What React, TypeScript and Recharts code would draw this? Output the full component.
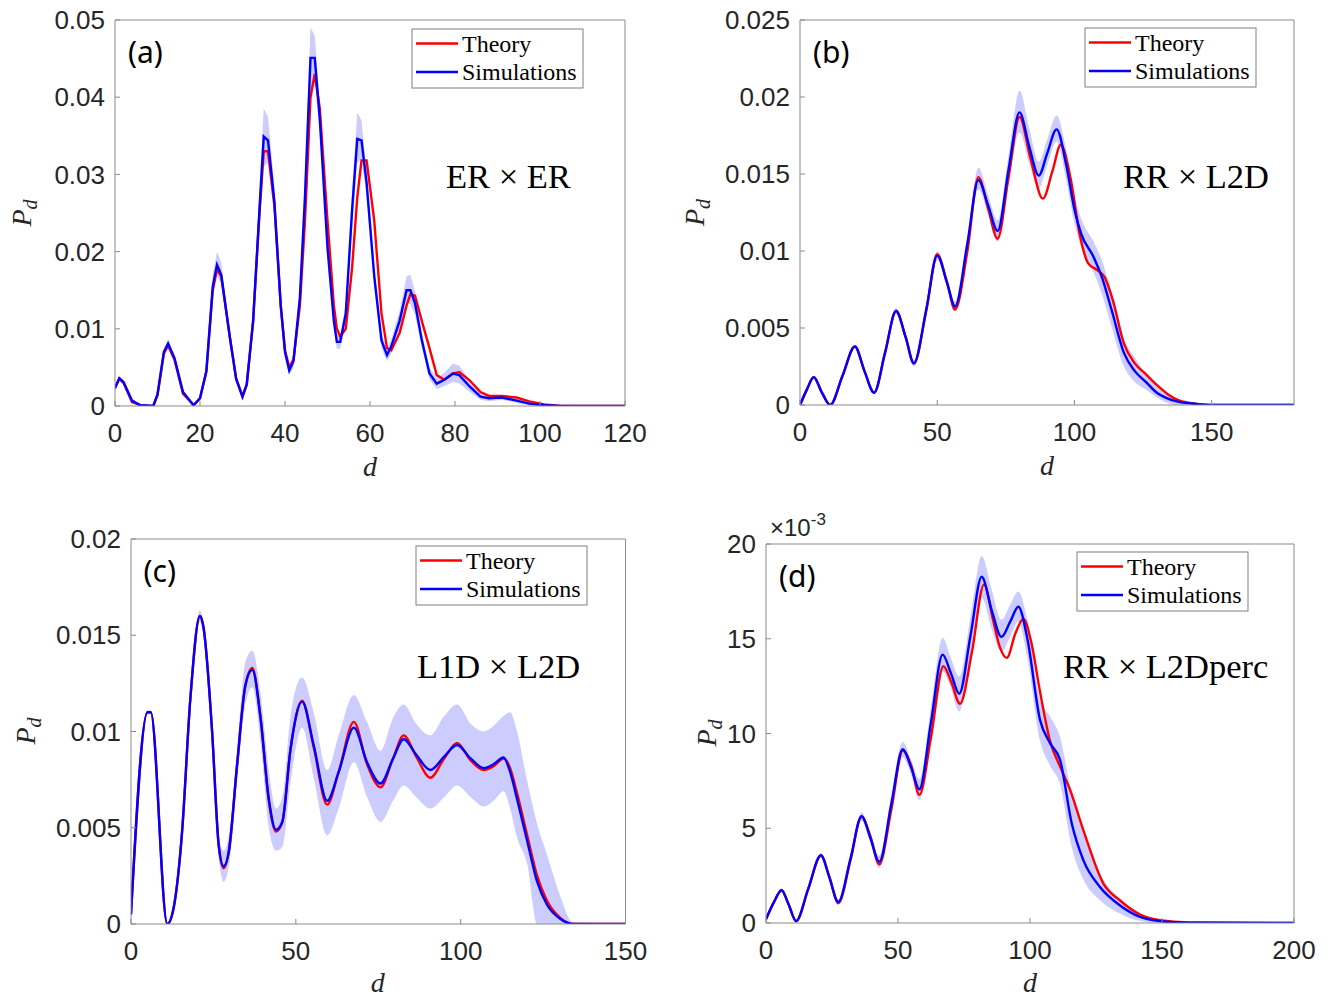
import { Area, ComposedChart, Line, XAxis, YAxis } from "recharts";

// ---------- (a) ER x ER ----------
const dA = [
  0, 1, 2, 4, 6, 9, 10, 11.5, 12.5, 14,
  16, 18.5, 20, 21.5, 23, 24, 25, 27, 28.5, 30,
  31, 32.5, 34, 35, 36, 37.5, 39, 40, 41, 42,
  43.5, 44.7, 46, 47, 48.2, 50, 51.5, 52.2, 53, 54.3,
  55.8, 57, 58, 59.2, 61, 62.7, 64, 65, 67, 68.6,
  69.5, 70.6, 72.2, 74, 75.7, 77.5, 79.5, 81, 83.5, 86,
  88, 91, 94.5, 97.5, 101, 105, 120,
];
const simA = [
  0.0023, 0.0036, 0.0031, 0.0007, 0.0001, 0, 0.0015, 0.007, 0.0081, 0.0062,
  0.0018, 0.0001, 0.001, 0.0045, 0.0155, 0.0183, 0.017, 0.009, 0.0035, 0.0012,
  0.0028, 0.011, 0.0255, 0.0349, 0.0344, 0.0265, 0.013, 0.007, 0.0046, 0.0058,
  0.014, 0.0271, 0.0451, 0.0451, 0.0371, 0.0205, 0.011, 0.0083, 0.0083, 0.012,
  0.0255, 0.0346, 0.0344, 0.0289, 0.0168, 0.0085, 0.0066, 0.0077, 0.0111, 0.015,
  0.015, 0.0133, 0.0085, 0.0042, 0.0029, 0.0034, 0.0042, 0.004, 0.0025, 0.0012,
  0.001, 0.0011, 0.0007, 0.0003, 0.0001, 0, 0,
];
const theoryA = [
  0.0024, 0.0035, 0.003, 0.0005, 0.0001, 0, 0.0014, 0.0068, 0.0078, 0.006,
  0.0016, 0.0001, 0.001, 0.0045, 0.015, 0.0177, 0.0168, 0.009, 0.0036, 0.0012,
  0.0028, 0.011, 0.025, 0.033, 0.033, 0.026, 0.013, 0.0072, 0.005, 0.006,
  0.013, 0.024, 0.04, 0.043, 0.0385, 0.024, 0.013, 0.01, 0.009, 0.01,
  0.018, 0.027, 0.0318, 0.0318, 0.024, 0.012, 0.0075, 0.0072, 0.0095, 0.013,
  0.0145, 0.0143, 0.011, 0.0075, 0.004, 0.0034, 0.0042, 0.0044, 0.0033, 0.0018,
  0.0013, 0.0013, 0.0011, 0.0006, 0.0002, 0, 0,
];
const hiA = [
  0.0026, 0.0039, 0.0034, 0.0009, 0.0002, 0, 0.0017, 0.0074, 0.0087, 0.0066,
  0.002, 0.0002, 0.0012, 0.0048, 0.017, 0.02, 0.0186, 0.0096, 0.0038, 0.0015,
  0.0032, 0.012, 0.0285, 0.0385, 0.0375, 0.0285, 0.014, 0.0078, 0.0052, 0.0066,
  0.0155, 0.03, 0.049, 0.048, 0.039, 0.022, 0.012, 0.0092, 0.0092, 0.0132,
  0.028, 0.038, 0.037, 0.0305, 0.018, 0.0095, 0.0074, 0.0086, 0.0124, 0.0168,
  0.017, 0.0148, 0.0095, 0.005, 0.0036, 0.0043, 0.0055, 0.0052, 0.0033, 0.0017,
  0.0014, 0.0014, 0.001, 0.0005, 0.0002, 0, 0,
];
const loA = [
  0.002, 0.0033, 0.0028, 0.0005, 0, 0, 0.0013, 0.0066, 0.0075, 0.0058,
  0.0016, 0, 0.0008, 0.0042, 0.0145, 0.0168, 0.0158, 0.0084, 0.0032, 0.0009,
  0.0024, 0.01, 0.023, 0.031, 0.0315, 0.0245, 0.012, 0.0062, 0.004, 0.005,
  0.0125, 0.0245, 0.041, 0.042, 0.035, 0.019, 0.01, 0.0074, 0.0074, 0.0108,
  0.023, 0.0315, 0.032, 0.0272, 0.0156, 0.0075, 0.0058, 0.0068, 0.0098, 0.0133,
  0.0132, 0.0118, 0.0075, 0.0034, 0.0022, 0.0026, 0.0031, 0.0029, 0.0018, 0.0008,
  0.0006, 0.0008, 0.0004, 0.0001, 0, 0, 0,
];
const xTicksA = [0, 20, 40, 60, 80, 100, 120];
const yTicksA = [0, 0.01, 0.02, 0.03, 0.04, 0.05];

// ---------- (b) RR x L2D ----------
const dSimB = [
  0, 2.5, 5, 8, 11, 15.5, 20, 23.5, 27, 31,
  35, 38.5, 41.5, 46, 50, 53.5, 56.5, 61, 65, 68.5,
  72, 76, 80, 83.5, 87, 90, 93.5, 97, 100, 102.5,
  107, 110, 113.5, 118, 122, 126, 130, 133, 138, 143,
  150, 180,
];
const simB = [
  0, 0.001, 0.0018, 0.0008, 0, 0.0019, 0.0038, 0.0022, 0.0008, 0.0034,
  0.0061, 0.0044, 0.0027, 0.0062, 0.0097, 0.008, 0.0064, 0.0105, 0.0146, 0.013,
  0.0113, 0.0153, 0.019, 0.0168, 0.0149, 0.0163, 0.0179, 0.0156, 0.0127, 0.0111,
  0.0096, 0.0083, 0.0062, 0.0034, 0.0022, 0.0015, 0.0008, 0.0005, 0.0002, 0.0001,
  0, 0,
];
const hiB = [
  0.0001, 0.0011, 0.0019, 0.0009, 0.0001, 0.002, 0.0039, 0.0023, 0.0009, 0.0035,
  0.0063, 0.0046, 0.0029, 0.0065, 0.01, 0.0083, 0.0067, 0.011, 0.0154, 0.0137,
  0.012, 0.0162, 0.0204, 0.018, 0.0158, 0.0172, 0.0188, 0.0166, 0.0136, 0.0121,
  0.0106, 0.0094, 0.0073, 0.0043, 0.0031, 0.002, 0.0012, 0.0008, 0.0004, 0.0002,
  0, 0,
];
const loB = [
  0, 0.0009, 0.0017, 0.0007, 0, 0.0018, 0.0037, 0.0021, 0.0007, 0.0033,
  0.0059, 0.0042, 0.0025, 0.0059, 0.0094, 0.0077, 0.0061, 0.01, 0.014, 0.0124,
  0.0106, 0.0144, 0.0177, 0.0157, 0.0141, 0.0155, 0.0171, 0.0146, 0.0118, 0.0102,
  0.0086, 0.0072, 0.0051, 0.0025, 0.0015, 0.001, 0.0005, 0.0002, 0, 0,
  0, 0,
];
const dThB = [
  0, 2.5, 5, 8, 11, 15.5, 20, 23.5, 27, 31,
  35, 38.5, 41.5, 46, 50, 53.5, 56.5, 61, 65, 68.5,
  72, 76, 80, 84, 88.5, 92, 95, 98.5, 102, 105,
  108, 111, 114, 118, 122, 126, 130, 134, 138, 143,
  150, 180,
];
const theoryB = [
  0, 0.001, 0.0018, 0.0008, 0, 0.0019, 0.0038, 0.0022, 0.0008, 0.0034,
  0.0061, 0.0044, 0.0027, 0.0061, 0.0098, 0.008, 0.0062, 0.01, 0.0148, 0.0128,
  0.0108, 0.0148, 0.0187, 0.016, 0.0134, 0.0152, 0.0169, 0.0148, 0.011, 0.0092,
  0.0088, 0.0083, 0.0068, 0.004, 0.0027, 0.002, 0.0013, 0.0007, 0.0003, 0.0001,
  0, 0,
];
const xTicksB = [0, 50, 100, 150];
const yTicksB = [0, 0.005, 0.01, 0.015, 0.02, 0.025];

// ---------- (c) L1D x L2D ----------
const dC = [
  0, 5, 6, 11, 13, 15.5, 18, 20.9, 22, 24.6,
  26.6, 28.1, 29.7, 32.2, 34.7, 36.8, 39.3, 41.8, 44, 45.9,
  48.4, 51.9, 55.4, 59.5, 63, 67.6, 71.6, 75.7, 79.5, 82.7,
  86.5, 90.8, 95, 98.9, 103, 107, 110, 113, 115, 117.1,
  120.2, 123.2, 126.2, 130.3, 134, 150,
];
const simC = [
  0.0005, 0.011, 0.011, 0, 0.0009, 0.0048, 0.0117, 0.016, 0.0154, 0.01,
  0.0041, 0.003, 0.0038, 0.0083, 0.0124, 0.0132, 0.0107, 0.0065, 0.0049, 0.0053,
  0.0091, 0.01155, 0.0093, 0.0064, 0.0079, 0.0102, 0.0084, 0.0073, 0.0086, 0.0096,
  0.0088, 0.008, 0.0087, 0.0093, 0.0086, 0.0081, 0.0083, 0.00865, 0.0079, 0.0065,
  0.0043, 0.0022, 0.001, 0.00026, 0, 0,
];
const theoryC = [
  0.0005, 0.011, 0.011, 0, 0.0009, 0.0048, 0.0117, 0.016, 0.0154, 0.01,
  0.0041, 0.0029, 0.0038, 0.0083, 0.0124, 0.0133, 0.0107, 0.0064, 0.0048, 0.0053,
  0.0091, 0.0116, 0.0092, 0.0062, 0.0079, 0.0105, 0.0083, 0.0071, 0.0086, 0.0098,
  0.0087, 0.0076, 0.0086, 0.0094, 0.0085, 0.008, 0.0082, 0.0086, 0.0081, 0.0068,
  0.0046, 0.0025, 0.0012, 0.0003, 0, 0,
];
const hiC = [
  0.0006, 0.0111, 0.0111, 0.0001, 0.001, 0.005, 0.0119, 0.0163, 0.0157, 0.0104,
  0.0046, 0.0038, 0.0046, 0.0092, 0.0136, 0.0142, 0.012, 0.008, 0.006, 0.0066,
  0.0108, 0.0128, 0.011, 0.008, 0.0098, 0.0119, 0.0105, 0.009, 0.0107, 0.0114,
  0.0104, 0.0098, 0.0108, 0.0114, 0.0104, 0.01, 0.0103, 0.0108, 0.011, 0.01,
  0.0074, 0.0052, 0.0036, 0.0014, 0.0001, 0,
];
const loC = [
  0.0004, 0.0109, 0.0109, 0, 0.0008, 0.0046, 0.0115, 0.0157, 0.0151, 0.0096,
  0.0034, 0.0022, 0.003, 0.0074, 0.0114, 0.0123, 0.0094, 0.005, 0.0038, 0.004,
  0.0074, 0.0102, 0.0076, 0.0046, 0.006, 0.0084, 0.0066, 0.0053, 0.0064, 0.0072,
  0.0066, 0.006, 0.0066, 0.0072, 0.0066, 0.0061, 0.0064, 0.0069, 0.006, 0.0045,
  0.0031, 0, 0, 0, 0, 0,
];
const xTicksC = [0, 50, 100, 150];
const yTicksC = [0, 0.005, 0.01, 0.015, 0.02];

// ---------- (d) RR x L2Dperc (values in units of 1e-3) ----------
const dSimD = [
  0, 3, 5.9, 8.5, 11.4, 16, 20.8, 24, 27.4, 32,
  36.2, 39.5, 42.9, 47.5, 51.8, 55, 58.1, 62.5, 66.9, 70,
  73.2, 77.5, 81.7, 85.5, 89.2, 92.5, 95.6, 99, 103.8, 107.6,
  111.4, 115.8, 120.2, 126.5, 134, 141.7, 149.2, 160, 200,
];
const simD = [
  0.2, 1.1, 1.73, 1.0, 0.1, 1.8, 3.58, 2.4, 1.11, 3.4,
  5.64, 4.5, 3.23, 6.3, 9.17, 8.2, 7.06, 10.6, 14.16, 13.2,
  12.1, 15.2, 18.27, 16.5, 15.1, 15.9, 16.69, 15.0, 10.72, 9.49,
  8.6, 5.26, 3.32, 1.9, 0.94, 0.32, 0.1, 0.02, 0,
];
const hiD = [
  0.3, 1.2, 1.83, 1.1, 0.2, 1.9, 3.7, 2.5, 1.25, 3.6,
  5.85, 4.75, 3.55, 6.8, 9.55, 8.6, 7.6, 11.4, 15.05, 14.0,
  13.0, 16.2, 19.37, 17.6, 16.0, 16.8, 17.5, 16.0, 11.8, 10.9,
  9.8, 6.8, 4.8, 2.6, 1.3, 0.5, 0.2, 0.05, 0,
];
const loD = [
  0.1, 1.0, 1.63, 0.9, 0, 1.7, 3.45, 2.3, 0.95, 3.2,
  5.4, 4.25, 2.9, 5.8, 8.75, 7.8, 6.5, 9.8, 13.3, 12.4,
  11.16, 14.2, 17.16, 15.5, 14.3, 15.1, 15.9, 14.0, 9.6, 8.3,
  7.3, 4.0, 2.3, 1.2, 0.5, 0.1, 0, 0, 0,
];
const dThD = [
  0, 3, 5.9, 8.5, 11.4, 16, 20.8, 24, 27.4, 32,
  36.2, 39.5, 42.9, 47.5, 51.8, 55, 58.1, 62.5, 67.2, 70.2,
  73.5, 78, 82.6, 86, 88.5, 91.2, 94.5, 97.5, 100.5, 103.8,
  107.6, 111.4, 115.2, 120.2, 127.8, 134, 141.7, 149.2, 160, 200,
];
const theoryD = [
  0.2, 1.1, 1.73, 1.0, 0.1, 1.8, 3.55, 2.45, 1.05, 3.3,
  5.6, 4.6, 3.1, 6.0, 9.1, 8.3, 6.76, 9.8, 13.55, 12.7,
  11.57, 14.3, 17.87, 16.0, 14.6, 13.99, 15.3, 16.05, 14.8, 12.2,
  9.6, 8.25, 7.02, 4.9, 2.08, 1.2, 0.45, 0.15, 0.03, 0,
];
const xTicksD = [0, 50, 100, 150, 200];
const yTicksD = [0, 5, 10, 15, 20];

const AXIS = "#8a8a8a";
const INK = "#262626";
const SANS = "'Liberation Sans', Arial, sans-serif";
const SERIF = "'Liberation Serif', 'Times New Roman', serif";

type PanelDef = {
  tag: string;
  title: string;
  left: number;
  top: number;
  width: number;
  height: number;
  xDomain: [number, number];
  xTicks: number[];
  yDomain: [number, number];
  yTicks: number[];
  curve: "linear" | "monotone";
  dSim: number[];
  sim: number[];
  lo: number[];
  hi: number[];
  dTh: number[];
  theory: number[];
  pdX: number; // baseline x of the rotated P_d label
  titleX: number;
  titleY: number;
  legendX: number;
  legendY: number;
};

const panels: PanelDef[] = [
  {
    tag: "(a)", title: "ER × ER",
    left: 115, top: 20, width: 510, height: 386,
    xDomain: [0, 120], xTicks: xTicksA, yDomain: [0, 0.05], yTicks: yTicksA,
    curve: "linear", dSim: dA, sim: simA, lo: loA, hi: hiA, dTh: dA, theory: theoryA,
    pdX: 31, titleX: 446, titleY: 188, legendX: 412, legendY: 29,
  },
  {
    tag: "(b)", title: "RR × L2D",
    left: 800, top: 20, width: 494, height: 385,
    xDomain: [0, 180], xTicks: xTicksB, yDomain: [0, 0.025], yTicks: yTicksB,
    curve: "monotone", dSim: dSimB, sim: simB, lo: loB, hi: hiB, dTh: dThB, theory: theoryB,
    pdX: 704, titleX: 1123, titleY: 188, legendX: 1085, legendY: 28,
  },
  {
    tag: "(c)", title: "L1D × L2D",
    left: 130.5, top: 538.5, width: 494.5, height: 385,
    xDomain: [0, 150], xTicks: xTicksC, yDomain: [0, 0.02], yTicks: yTicksC,
    curve: "monotone", dSim: dC, sim: simC, lo: loC, hi: hiC, dTh: dC, theory: theoryC,
    pdX: 35, titleX: 417, titleY: 678, legendX: 416, legendY: 546,
  },
  {
    tag: "(d)", title: "RR × L2Dperc",
    left: 766, top: 543.5, width: 528, height: 379,
    xDomain: [0, 200], xTicks: xTicksD, yDomain: [0, 20], yTicks: yTicksD,
    curve: "monotone", dSim: dSimD, sim: simD, lo: loD, hi: hiD, dTh: dThD, theory: theoryD,
    pdX: 716, titleX: 1063, titleY: 678, legendX: 1077, legendY: 552,
  },
];

function Panel({ p }: { p: PanelDef }) {
  const simData = p.dSim.map((d, i) => ({ d, v: p.sim[i] }));
  const thData = p.dTh.map((d, i) => ({ d, v: p.theory[i] }));
  const bandData = p.dSim.map((d, i) => ({ d, band: [p.lo[i], p.hi[i]] }));
  const tickStyle = { fontSize: 26, fill: INK, fontFamily: SANS };

  return (
    <div style={{ position: "absolute", left: p.left - 110, top: p.top - 30 }}>
      <ComposedChart
        width={p.width + 140}
        height={p.height + 120}
        margin={{ top: 29, right: 29, bottom: 0, left: 0 }}
      >
        <XAxis
          dataKey="d"
          type="number"
          domain={p.xDomain}
          ticks={p.xTicks}
          interval={0}
          allowDataOverflow
          height={90}
          tickSize={-5}
          tickMargin={23}
          axisLine={{ stroke: AXIS }}
          tickLine={{ stroke: AXIS }}
          tick={tickStyle}
        />
        <XAxis
          xAxisId="top"
          orientation="top"
          dataKey="d"
          type="number"
          domain={p.xDomain}
          ticks={p.xTicks}
          interval={0}
          allowDataOverflow
          height={1}
          tickSize={-5}
          axisLine={{ stroke: AXIS }}
          tickLine={{ stroke: AXIS }}
          tick={false}
        />
        <YAxis
          type="number"
          domain={p.yDomain}
          ticks={p.yTicks}
          interval={0}
          allowDataOverflow
          width={110}
          tickSize={-5}
          tickMargin={15}
          axisLine={{ stroke: AXIS }}
          tickLine={{ stroke: AXIS }}
          tick={tickStyle}
        />
        <YAxis
          yAxisId="right"
          orientation="right"
          type="number"
          domain={p.yDomain}
          ticks={p.yTicks}
          interval={0}
          allowDataOverflow
          width={1}
          tickSize={-5}
          axisLine={{ stroke: AXIS }}
          tickLine={{ stroke: AXIS }}
          tick={false}
        />
        <Area
          data={bandData}
          dataKey="band"
          type={p.curve}
          stroke="none"
          fill="#0000ff"
          fillOpacity={0.2}
          isAnimationActive={false}
        />
        <Line
          data={thData}
          dataKey="v"
          type={p.curve}
          stroke="#ff0000"
          strokeWidth={2.4}
          dot={false}
          isAnimationActive={false}
        />
        <Line
          data={simData}
          dataKey="v"
          type={p.curve}
          stroke="#0000ff"
          strokeWidth={2.4}
          dot={false}
          isAnimationActive={false}
        />
        {/* keeps the box axes bound to a series */}
        <Line
          xAxisId="top"
          yAxisId="right"
          data={simData}
          dataKey="v"
          stroke="none"
          dot={false}
          isAnimationActive={false}
        />
      </ComposedChart>
    </div>
  );
}

function PanelText({ p }: { p: PanelDef }) {
  const midX = p.left + p.width / 2;
  const midY = p.top + p.height / 2;
  const lx = p.legendX;
  const ly = p.legendY;
  return (
    <g>
      <text
        x={p.pdX}
        y={midY}
        transform={`rotate(-90 ${p.pdX} ${midY})`}
        textAnchor="middle"
        fontFamily={SERIF}
        fontStyle="italic"
        fontSize={28}
        fill={INK}
      >
        P
        <tspan fontSize={20} dy={6}>
          d
        </tspan>
      </text>
      <text
        x={midX}
        y={Math.min(p.top + p.height + 70, 992)}
        textAnchor="middle"
        fontFamily={SERIF}
        fontStyle="italic"
        fontSize={28}
        fill={INK}
      >
        d
      </text>
      <text x={p.left + 13} y={p.top + 43} fontFamily="'Noto Sans', sans-serif" fontSize={30} fill="#000">
        {p.tag}
      </text>
      <text x={p.titleX} y={p.titleY} fontFamily={SERIF} fontSize={34.5} fill="#000">
        {p.title}
      </text>
      <rect x={lx} y={ly} width={171} height={59} fill="#fff" stroke="#7f7f7f" strokeWidth={1} />
      <line x1={lx + 4} x2={lx + 46} y1={ly + 14.5} y2={ly + 14.5} stroke="#ff0000" strokeWidth={2.4} />
      <line x1={lx + 4} x2={lx + 46} y1={ly + 43} y2={ly + 43} stroke="#0000ff" strokeWidth={2.4} />
      <text x={lx + 50} y={ly + 22.5} fontFamily={SERIF} fontSize={24} fill="#000">
        Theory
      </text>
      <text x={lx + 50} y={ly + 50.5} fontFamily={SERIF} fontSize={24} fill="#000">
        Simulations
      </text>
    </g>
  );
}

export default function App() {
  return (
    <div
      style={{
        position: "absolute",
        left: 0,
        top: 0,
        width: 1332,
        height: 999,
        overflow: "hidden",
        background: "#fff",
      }}
    >
      {panels.map((p) => (
        <Panel key={p.tag} p={p} />
      ))}
      <svg
        width={1332}
        height={999}
        style={{ position: "absolute", left: 0, top: 0, pointerEvents: "none" }}
      >
        {panels.map((p) => (
          <PanelText key={p.tag} p={p} />
        ))}
        <text x={770} y={536} fontFamily={SANS} fontSize={24} fill={INK}>
          ×10
          <tspan fontSize={17} dy={-11}>
            -3
          </tspan>
        </text>
      </svg>
    </div>
  );
}
